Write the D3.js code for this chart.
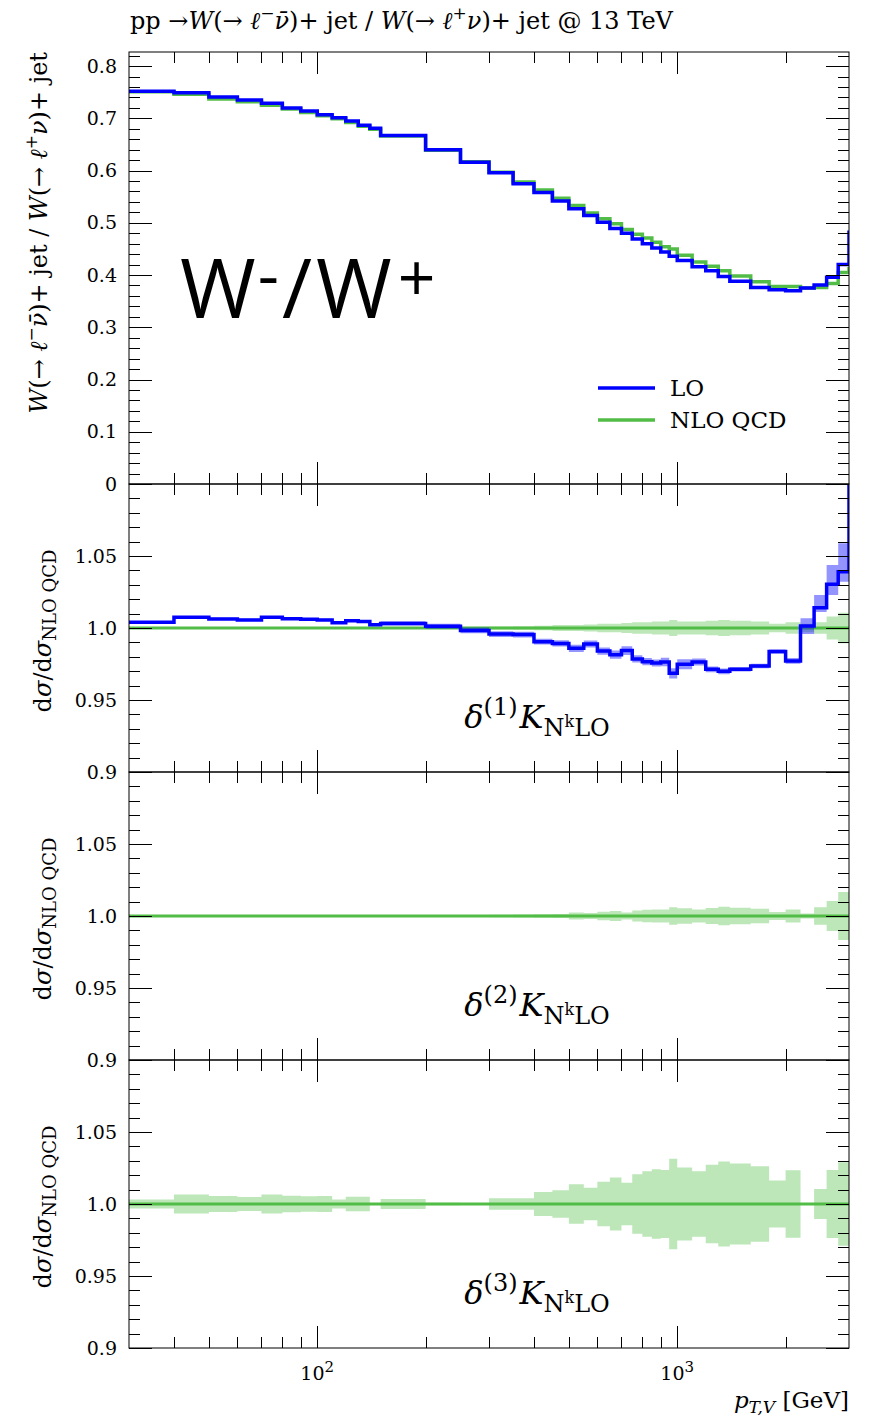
<!DOCTYPE html>
<html>
<head>
<meta charset="utf-8">
<script src="https://cdn.jsdelivr.net/npm/d3@7"></script>
<style>
  body { margin: 0; background: #fff; }
  text { font-family: "DejaVu Serif", "Liberation Serif", serif; fill: #000; }
</style>
</head>
<body>
<svg id="chart" width="880" height="1416"></svg>
<script>
// bin edges in GeV (last bin sits beyond the plotted range and gets clipped)
const binEdges = [30, 40, 50, 60, 70, 80, 90, 100, 110, 120, 130, 140, 150, 200, 250, 300,
  350, 400, 450, 500, 550, 600, 650, 700, 750, 800, 850, 900, 950, 1000, 1100, 1200, 1300,
  1400, 1600, 1800, 2000, 2200, 2400, 2600, 2800, 3000, 3200];

// W-/W+ ratio
const loValues = [0.752, 0.749, 0.741, 0.735, 0.729, 0.720, 0.714, 0.707, 0.701, 0.695, 0.687,
  0.681, 0.667, 0.640, 0.616, 0.596, 0.575, 0.558, 0.542, 0.527, 0.514, 0.501, 0.489, 0.480,
  0.469, 0.460, 0.452, 0.444, 0.436, 0.428, 0.416, 0.408, 0.397, 0.388, 0.376, 0.372, 0.370,
  0.375, 0.381, 0.396, 0.420, 0.482];
const nloValues = [0.751, 0.746, 0.737, 0.732, 0.725, 0.718, 0.711, 0.705, 0.699, 0.692, 0.685,
  0.679, 0.666, 0.639, 0.617, 0.597, 0.578, 0.563, 0.547, 0.533, 0.519, 0.508, 0.498, 0.487,
  0.478, 0.471, 0.463, 0.454, 0.450, 0.438, 0.425, 0.417, 0.408, 0.398, 0.387, 0.378, 0.378,
  0.375, 0.376, 0.384, 0.405, 0.412];

// panel 1: LO / NLO QCD with its band
const loRatio = [1.0040, 1.0074, 1.0063, 1.0056, 1.0074, 1.0065, 1.0060, 1.0056, 1.0037, 1.0050,
  1.0046, 1.0023, 1.0032, 1.0012, 0.9983, 0.9958, 0.9954, 0.9905, 0.9893, 0.9859, 0.9889, 0.9840,
  0.9815, 0.9843, 0.9785, 0.9766, 0.9757, 0.9764, 0.9685, 0.9748, 0.9764, 0.9713, 0.9699, 0.9713,
  0.9736, 0.9836, 0.9771, 1.0014, 1.0141, 1.0303, 1.0391, 1.17];
const loErrUp = [0.0008, 0.0008, 0.0008, 0.0008, 0.0008, 0.0008, 0.0008, 0.0008, 0.0008, 0.0008,
  0.0008, 0.0008, 0.0015, 0.0018, 0.002, 0.002, 0.002, 0.002, 0.0022, 0.0025, 0.0025, 0.0025,
  0.0028, 0.003, 0.0025, 0.0025, 0.0025, 0.003, 0.0035, 0.0035, 0.0025, 0.002, 0.002, 0.0015,
  0.0015, 0.0015, 0.002, 0.0053, 0.0088, 0.0135, 0.0197, 0.03];
const loErrDown = [0.0008, 0.0008, 0.0008, 0.0008, 0.0008, 0.0008, 0.0008, 0.0008, 0.0008, 0.0008,
  0.0008, 0.0008, 0.0015, 0.0018, 0.002, 0.002, 0.002, 0.002, 0.0022, 0.0025, 0.0025, 0.0025,
  0.0028, 0.003, 0.0025, 0.0025, 0.0025, 0.003, 0.0035, 0.0035, 0.0025, 0.002, 0.002, 0.0015,
  0.0015, 0.0015, 0.002, 0.0056, 0.003, 0.0074, 0.007, 0.03];
const nloErr1 = [0.0004, 0.0004, 0.0004, 0.0004, 0.0004, 0.0004, 0.0004, 0.0004, 0.0004, 0.0004,
  0.0004, 0.0004, 0.0004, 0.0004, 0.0008, 0.001, 0.0012, 0.0015, 0.002, 0.002, 0.0025, 0.003,
  0.003, 0.0035, 0.004, 0.004, 0.0045, 0.0045, 0.0055, 0.0045, 0.0045, 0.005, 0.0055, 0.005,
  0.0045, 0.003, 0.004, 0.003, 0.004, 0.008, 0.0106, 0.012];
// panel 2 and 3: NLO QCD bands
const nloErr2 = [0.0005, 0.0005, 0.0005, 0.0005, 0.0005, 0.0005, 0.0005, 0.0005, 0.0005, 0.0005,
  0.0005, 0.0005, 0.0005, 0.0005, 0.0006, 0.0008, 0.001, 0.0012, 0.0014, 0.0025, 0.002, 0.003,
  0.0035, 0.0025, 0.0038, 0.0044, 0.0045, 0.0046, 0.006, 0.0053, 0.0045, 0.0055, 0.0064, 0.0057,
  0.005, 0.0028, 0.0045, 0.0018, 0.006, 0.0104, 0.0167, 0.02];
const nloErr3 = [0.0032, 0.0066, 0.0056, 0.0049, 0.0066, 0.0057, 0.0053, 0.0055, 0.0032, 0.005,
  0.005, 0.0005, 0.0035, 0.0008, 0.0005, 0.004, 0.004, 0.0083, 0.0096, 0.0137, 0.0113, 0.0155,
  0.0184, 0.0148, 0.0207, 0.0227, 0.0241, 0.0236, 0.0315, 0.0253, 0.0228, 0.0273, 0.0296, 0.0282,
  0.0263, 0.0164, 0.0234, 0, 0.0104, 0.0236, 0.029, 0.03];

const topTicks = [0, 0.1, 0.2, 0.3, 0.4, 0.5, 0.6, 0.7, 0.8];
const topTickLabels = ["0", "0.1", "0.2", "0.3", "0.4", "0.5", "0.6", "0.7", "0.8"];
const ratioTicks = [0.9, 0.95, 1.0, 1.05];
const ratioTickLabels = ["0.9", "0.95", "1.0", "1.05"];
const xMajor = [100, 1000];
const xMajorExp = ["2", "3"];
const xMinor = [40, 50, 60, 70, 80, 90, 200, 300, 400, 500, 600, 700, 800, 900, 2000];

const BLUE = "#0000ff", GREEN = "#52bd46";
const left = 129, right = 849;

const svg = d3.select("#chart");
const x = d3.scaleLog().domain([30, 3000]).range([left, right]);

const panels = [
  { top: 52, bottom: 484, domain: [0, 0.827] },
  { top: 484, bottom: 772, domain: [0.9, 1.1] },
  { top: 772, bottom: 1060, domain: [0.9, 1.1] },
  { top: 1060, bottom: 1348, domain: [0.9, 1.1] }
];
panels.forEach((p, i) => {
  p.y = d3.scaleLinear().domain(p.domain).range([p.bottom, p.top]);
  svg.append("clipPath").attr("id", "clip" + i)
    .append("rect").attr("x", left).attr("y", p.top)
    .attr("width", right - left).attr("height", p.bottom - p.top);
  p.g = svg.append("g").attr("clip-path", `url(#clip${i})`);
});

function stepPts(values) {
  const pts = [];
  values.forEach((v, i) => { pts.push([binEdges[i], v], [binEdges[i + 1], v]); });
  return pts;
}
function drawStep(g, y, values, color, w) {
  g.append("path")
    .attr("d", d3.line().x(d => x(d[0])).y(d => y(d[1]))(stepPts(values)))
    .attr("fill", "none").attr("stroke", color).attr("stroke-width", w)
    .attr("stroke-linejoin", "miter");
}
function drawBand(g, y, values, up, down, color, op) {
  const pts = values.map((v, i) => ({ x: binEdges[i], lo: v - down[i], hi: v + up[i] }));
  const last = pts[pts.length - 1];
  pts.push({ x: binEdges[values.length], lo: last.lo, hi: last.hi });
  g.append("path")
    .attr("d", d3.area().curve(d3.curveStepAfter)
      .x(d => x(d.x)).y0(d => y(d.lo)).y1(d => y(d.hi))(pts))
    .attr("fill", color).attr("fill-opacity", op);
}

// top panel
const p0 = panels[0];
drawStep(p0.g, p0.y, nloValues, GREEN, 3.5);
drawStep(p0.g, p0.y, loValues, BLUE, 3.5);

// ratio panels
const ones = loRatio.map(() => 1);
[nloErr1, nloErr2, nloErr3].forEach((err, k) => {
  const p = panels[k + 1];
  drawBand(p.g, p.y, ones, err, err, GREEN, 0.38);
  drawStep(p.g, p.y, ones, GREEN, 3);
  if (k === 0) {
    drawBand(p.g, p.y, loRatio, loErrUp, loErrDown, BLUE, 0.42);
    drawStep(p.g, p.y, loRatio, BLUE, 3.5);
  }
});

// frames and ticks
const axes = svg.append("g").attr("stroke", "#000").attr("stroke-width", 1);
panels.forEach((p, i) => {
  axes.append("rect").attr("x", left).attr("y", p.top)
    .attr("width", right - left).attr("height", p.bottom - p.top).attr("fill", "none");
  const tick = (list, len) => list.forEach(v => {
    const xv = Math.round(x(v)) + 0.5;
    axes.append("line").attr("x1", xv).attr("x2", xv).attr("y1", p.top).attr("y2", p.top + len);
    axes.append("line").attr("x1", xv).attr("x2", xv).attr("y1", p.bottom).attr("y2", p.bottom - len);
  });
  tick(xMajor, 22);
  tick(xMinor, 11);

  const majors = i === 0 ? topTicks : ratioTicks;
  const step = i === 0 ? 0.02 : 0.01;
  const minors = d3.range(p.domain[0], p.domain[1] + 1e-9, step)
    .filter(v => !majors.some(m => Math.abs(m - v) < 1e-6));
  const ytick = (list, len) => list.forEach(v => {
    const yv = Math.round(p.y(v)) + 0.5;
    axes.append("line").attr("x1", left).attr("x2", left + len).attr("y1", yv).attr("y2", yv);
    axes.append("line").attr("x1", right).attr("x2", right - len).attr("y1", yv).attr("y2", yv);
  });
  ytick(majors, 23);
  ytick(minors, 11);

  const labels = i === 0 ? topTickLabels : ratioTickLabels;
  svg.append("g").selectAll("text").data(majors).join("text")
    .attr("x", 117).attr("y", d => p.y(d)).attr("dy", "0.35em")
    .attr("text-anchor", "end").attr("font-size", 19)
    .text((d, j) => labels[j]);
});

// rich text helper: parts {t, it, off, fs, dx}
function rich(sel, parts, size) {
  let shift = 0;
  parts.forEach(q => {
    const off = q.off || 0;
    const ts = sel.append("tspan").text(q.t).attr("dy", off - shift);
    shift = off;
    if (q.dx) ts.attr("dx", q.dx);
    if (q.it) ts.attr("font-style", "italic");
    ts.attr("font-size", q.fs || size);
  });
  return sel;
}

// title
rich(svg.append("text").attr("x", 130).attr("y", 29), [
  { t: "pp \u2192" }, { t: "W", it: true }, { t: "(\u2192 " }, { t: "\u2113", it: true },
  { t: "\u2212", off: -10, fs: 17 }, { t: "\u03BD\u0304", it: true }, { t: ")+ jet / " },
  { t: "W", it: true }, { t: "(\u2192 " }, { t: "\u2113", it: true },
  { t: "+", off: -10, fs: 17 }, { t: "\u03BD", it: true }, { t: ")+ jet @ 13 TeV" }
], 24);

// y labels
rich(svg.append("text").attr("transform", "translate(47,52) rotate(-90)")
  .attr("text-anchor", "end"), [
  { t: "W", it: true }, { t: "(\u2192 " }, { t: "\u2113", it: true },
  { t: "\u2212", off: -10, fs: 17 }, { t: "\u03BD\u0304", it: true }, { t: ")+ jet / " },
  { t: "W", it: true }, { t: "(\u2192 " }, { t: "\u2113", it: true },
  { t: "+", off: -10, fs: 17 }, { t: "\u03BD", it: true }, { t: ")+ jet" }
], 24);

panels.slice(1).forEach((p, k) => {
  rich(svg.append("text").attr("transform", `translate(51,${p.y(1.0) + 3}) rotate(-90)`)
    .attr("text-anchor", "middle"), [
    { t: "d" }, { t: "\u03C3", it: true }, { t: "/d" }, { t: "\u03C3", it: true },
    { t: "NLO QCD", off: 5, fs: 18 }
  ], 24);

  rich(svg.append("text").attr("x", 537).attr("y", p.top + 244).attr("text-anchor", "middle"), [
    { t: "\u03B4", it: true }, { t: `(${k + 1})`, off: -13, fs: 24 }, { t: "K", it: true, dx: 2 },
    { t: "N", off: 8, fs: 24 }, { t: "k", off: -1, fs: 16 }, { t: "LO", off: 8, fs: 24 }
  ], 32);
});

// x tick labels and axis title
xMajor.forEach((v, j) => {
  rich(svg.append("text").attr("x", x(v)).attr("y", 1380).attr("text-anchor", "middle"), [
    { t: "10" }, { t: xMajorExp[j], off: -8, fs: 15 }
  ], 19);
});
rich(svg.append("text").attr("x", right).attr("y", 1408).attr("text-anchor", "end"), [
  { t: "p", it: true }, { t: "T,V", it: true, off: 5, fs: 17 }, { t: " [GeV]" }
], 23);

// big label
rich(svg.append("text").attr("x", 180).attr("y", 318)
  .style("font-family", "'Open Sans', 'DejaVu Sans', sans-serif"), [
  { t: "W" }, { t: "-", off: -20, fs: 66, dx: 2 }, { t: "/", dx: 3 }, { t: "W", dx: 4 },
  { t: "+", off: -17, fs: 66, dx: 6 }
], 82);

// legend
const legend = [{ name: "LO", color: BLUE }, { name: "NLO QCD", color: GREEN }];
legend.forEach((d, i) => {
  const yy = 388 + i * 32;
  svg.append("line").attr("x1", 598).attr("x2", 655).attr("y1", yy).attr("y2", yy)
    .attr("stroke", d.color).attr("stroke-width", 3.5);
  svg.append("text").attr("x", 670).attr("y", yy + 8).attr("font-size", 23).text(d.name);
});
</script>
</body>
</html>
